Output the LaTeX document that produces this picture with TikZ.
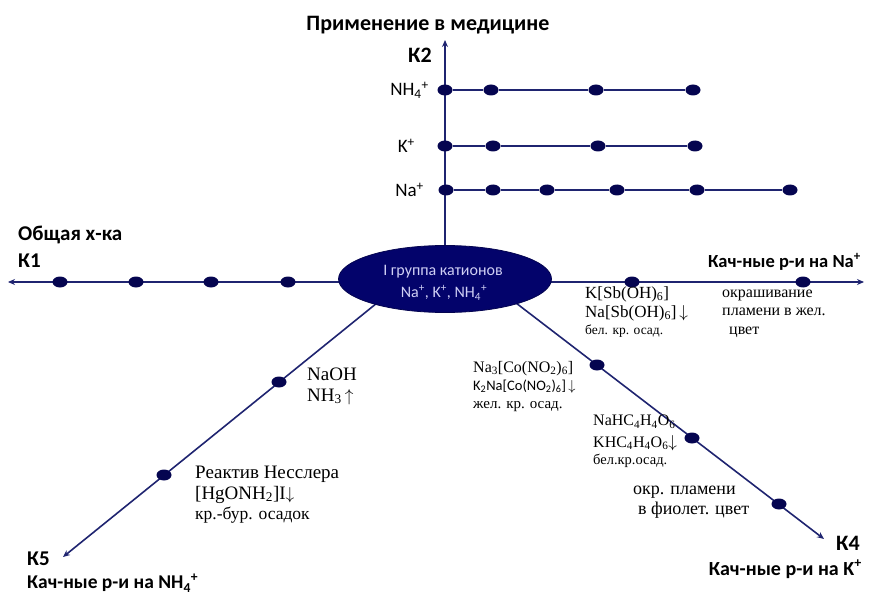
\documentclass[tikz,border=0pt]{standalone}
\usepackage{fontspec}
\setmainfont{Liberation Serif}
\newfontfamily\calfont{Carlito}
\usetikzlibrary{shapes.geometric,arrows.meta,backgrounds}
\definecolor{axisblue}{HTML}{1F2470}
\definecolor{dotblue}{HTML}{050550}
\definecolor{ellblue}{HTML}{03036B}
\definecolor{elltext}{HTML}{D0D0F5}
\newcommand\fs[1]{\fontsize{#1}{#1}\selectfont}
\begin{document}
\begin{tikzpicture}[x=1pt,y=-1pt,
  axis/.style={draw=axisblue,line width=1.6pt},
  arr/.style={-{Stealth[length=7pt,width=6pt]}},
  dot/.style={ellipse,fill=dotblue,minimum width=15pt,minimum height=11pt,inner sep=0pt},
  hdr/.style={font=\calfont\bfseries\fs{22},inner sep=0pt},
  ion/.style={font=\calfont\fs{19},inner sep=0pt,anchor=east},
  rom/.style={inner sep=0pt,anchor=base west},
]
\useasboundingbox (0,0) rectangle (870,596);
% --- key points
\coordinate (c) at (445,279);
\coordinate (k2) at (445,40);
\coordinate (k1) at (8,282);
\coordinate (k3) at (864,282);
\coordinate (k4s) at (516,303);
\coordinate (k4) at (824,539);
\coordinate (k5s) at (377,303);
\coordinate (k5) at (63,557);
% --- axes
\draw[axis,arr] (c) -- (k2);
\draw[axis,{Stealth[length=7pt,width=6pt]}-{Stealth[length=7pt,width=6pt]}] (k1) -- (k3);
\draw[axis,arr] (k4s) -- (k4);
\draw[axis,arr] (k5s) -- (k5);
% --- rows
\node[dot] (nh1) at (445,90) {};
\node[dot] (nh2) at (491,90) {};
\node[dot] (nh3) at (596,90) {};
\node[dot] (nh4) at (693,90) {};
\node[dot] (kk1) at (445,146) {};
\node[dot] (kk2) at (493,146) {};
\node[dot] (kk3) at (598,146) {};
\node[dot] (kk4) at (695,146) {};
\node[dot] (na1) at (446,190) {};
\node[dot] (na2) at (493,190) {};
\node[dot] (na3) at (547,190) {};
\node[dot] (na4) at (617,190) {};
\node[dot] (na5) at (697,190) {};
\node[dot] (na6) at (790,190) {};
\begin{scope}[on background layer]
\draw[axis,line width=1.3pt] (nh1) -- (nh2) -- (nh3) -- (nh4);
\draw[axis,line width=1.3pt] (kk1) -- (kk2) -- (kk3) -- (kk4);
\draw[axis,line width=1.3pt] (na1) -- (na2) -- (na3) -- (na4) -- (na5) -- (na6);
\end{scope}
% --- K1 dots
\node[dot] (a1) at (60,282) {};
\node[dot] (a2) at (136,282) {};
\node[dot] (a3) at (211,282) {};
\node[dot] (a4) at (288,282) {};
% --- Na+ reactions dots
\node[dot] (b1) at (632,282) {};
\node[dot] (b2) at (803,282) {};
% --- K4 dots
\node[dot] (d1) at (597,365) {};
\node[dot] (d2) at (692,438) {};
\node[dot] (d3) at (779,504) {};
% --- K5 dots
\node[dot] (e1) at (279,382) {};
\node[dot] (e2) at (164,475) {};
% --- central ellipse
\node[ellipse,fill=ellblue,draw=dotblue,line width=0.8pt,minimum width=213pt,minimum height=67pt,inner sep=0pt] (grp) at (c) {};
\node[text=elltext,font=\calfont\fs{16},inner sep=0pt] (g1) at (443,272) {I группа катионов};
\node[text=elltext,font=\calfont\fs{16},inner sep=0pt] (g2) at (444,293) {Na\textsuperscript{+}, K\textsuperscript{+}, NH\textsubscript{4}\textsuperscript{+}};
% --- headers
\node[hdr] (t2) at (428,25) {Применение в медицине};
\node[hdr] (lk2) at (420,55) {К2};
\node[hdr,anchor=west,font=\calfont\bfseries\fs{21}] (t1) at (18,235) {Общая х-ка};
\node[hdr,anchor=west,font=\calfont\bfseries\fs{21}] (lk1) at (18,261) {К1};
\node[hdr,anchor=east,font=\calfont\bfseries\fs{18.5}] (t3) at (861,262) {Кач-ные р-и на Na\textsuperscript{+}};
\node[hdr,anchor=west] (lk4) at (836,543) {К4};
\node[hdr,anchor=east,font=\calfont\bfseries\fs{20}] (t4) at (862,569) {Кач-ные р-и на K\textsuperscript{+}};
\node[hdr,anchor=west,font=\calfont\bfseries\fs{21}] (lk5) at (27,559) {К5};
\node[hdr,anchor=west,font=\calfont\bfseries\fs{19.5}] (t5) at (27,583) {Кач-ные р-и на NH\textsubscript{4}\textsuperscript{+}};
% --- ion labels
\node[ion] (inh) at (429,90) {NH\textsubscript{4}\textsuperscript{+}};
\node[ion] (ik) at (415,146) {K\textsuperscript{+}};
\node[ion] (ina) at (424,190) {Na\textsuperscript{+}};
% --- reaction texts
\node[rom,font=\fs{17}] (r1a) at (585,298) {K[Sb(OH)\textsubscript{6}]};
\node[rom,font=\fs{17}] (r1b) at (585,317) {Na[Sb(OH)\textsubscript{6}]\,$\downarrow$};
\node[rom,font=\fs{13.5}] (r1c) at (585,334) {бел. кр. осад.};
\node[rom,font=\fs{16}] (r2a) at (722,297) {окрашивание};
\node[rom,font=\fs{16}] (r2b) at (722,315.5) {пламени в жел.};
\node[rom,font=\fs{16}] (r2c) at (729,334) {цвет};
\node[rom,font=\fs{19}] (r3a) at (307,380) {NaOH};
\node[rom,font=\fs{19}] (r3b) at (307,401) {NH\textsubscript{3}\,$\uparrow$};
\node[rom,font=\fs{16}] (r4a) at (473,372) {Na\textsubscript{3}[Co(NO\textsubscript{2})\textsubscript{6}]};
\node[rom,font=\calfont\fs{14.5}] (r4b) at (473,390) {K\textsubscript{2}Na[Co(NO\textsubscript{2})\textsubscript{6}]\,$\downarrow$};
\node[rom,font=\fs{15}] (r4c) at (473,408) {жел. кр. осад.};
\node[rom,font=\fs{16}] (r5a) at (593,425.5) {NaHC\textsubscript{4}H\textsubscript{4}O\textsubscript{6}};
\node[rom,font=\fs{16}] (r5b) at (593,447) {KHC\textsubscript{4}H\textsubscript{4}O\textsubscript{6}$\downarrow$};
\node[rom,font=\fs{14.5}] (r5c) at (593,464.5) {бел.кр.осад.};
\node[rom,font=\fs{18}] (r6a) at (633,494) {окр. пламени};
\node[rom,font=\fs{18}] (r6b) at (638,514) {в фиолет. цвет};
\node[rom,font=\fs{19}] (r7a) at (195,478) {Реактив Несслера};
\node[rom,font=\fs{19}] (r7b) at (195,499) {[HgONH\textsubscript{2}]I$\downarrow$};
\node[rom,font=\fs{17.5}] (r7c) at (195,519) {кр.-бур. осадок};
\end{tikzpicture}
\end{document}
